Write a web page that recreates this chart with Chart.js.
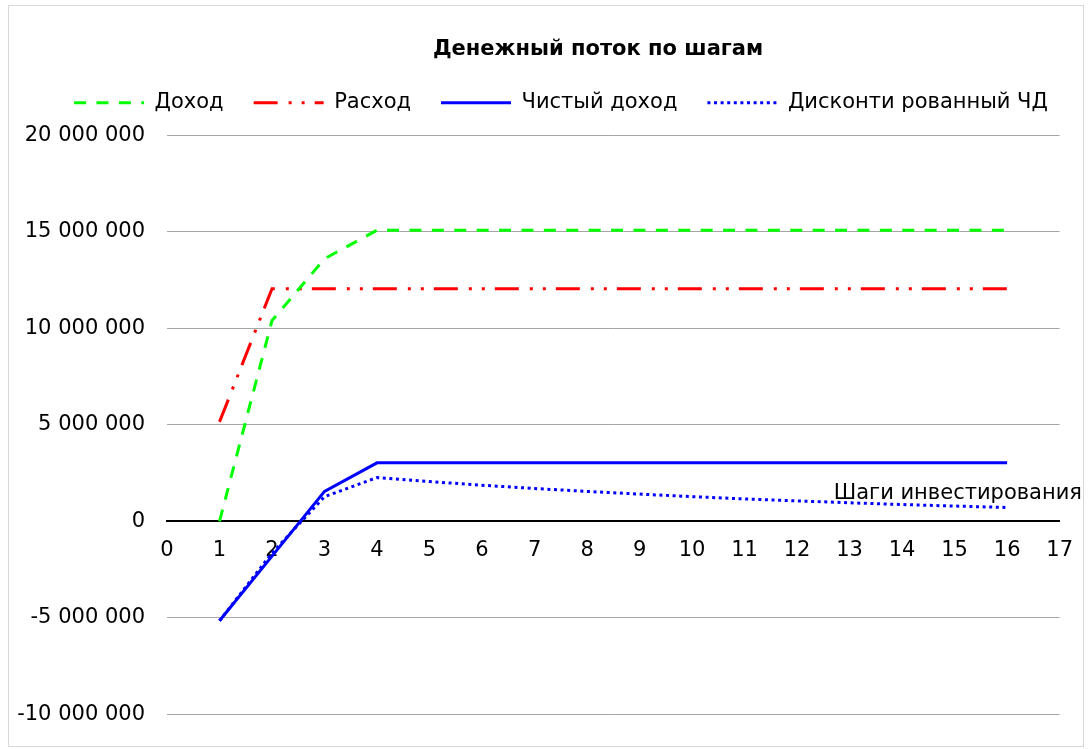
<!DOCTYPE html>
<html lang="ru">
<head>
<meta charset="utf-8">
<title>Денежный поток по шагам</title>
<script src="https://cdn.jsdelivr.net/npm/chart.js@4.4.1/dist/chart.umd.min.js"></script>
<style>
  html, body { margin: 0; padding: 0; background: #fff; }
  #box { position: relative; width: 1090px; height: 749px; }
</style>
</head>
<body>
<div id="box"><canvas id="flowChart"></canvas></div>
<script>
// Шаги и значения денежного потока (руб.)
const steps = [1, 2, 3, 4, 5, 6, 7, 8, 9, 10, 11, 12, 13, 14, 15, 16];
const income = [0, 10400000, 13600000, 15080000, 15080000, 15080000, 15080000, 15080000,
    15080000, 15080000, 15080000, 15080000, 15080000, 15080000, 15080000, 15080000];
const expense = [5150000, 12050000, 12050000, 12050000, 12050000, 12050000, 12050000, 12050000,
    12050000, 12050000, 12050000, 12050000, 12050000, 12050000, 12050000, 12050000];
const netIncome = [-5150000, -1800000, 1550000, 3030000, 3030000, 3030000, 3030000, 3030000,
    3030000, 3030000, 3030000, 3030000, 3030000, 3030000, 3030000, 3030000];
const discounted = [-5150000, -1640000, 1280000, 2270000, 2060000, 1870000, 1700000, 1550000,
    1410000, 1280000, 1160000, 1060000, 960000, 870000, 790000, 720000];

const seriesNames = ['Доход', 'Расход', 'Чистый доход', 'Дисконти рованный ЧД'];
const xAxisTitle = 'Шаги инвестирования';

const FONT = "'DejaVu Sans', Verdana, sans-serif";

function toPoints(values) {
    return steps.map((s, i) => ({ x: s, y: values[i] }));
}

function formatMoney(v) {
    return String(v).replace(/\B(?=(\d{3})+(?!\d))/g, ' ');
}

// рамка вокруг всей диаграммы
const frame = {
    id: 'frame',
    beforeDraw(chart) {
        const ctx = chart.ctx;
        ctx.save();
        ctx.fillStyle = '#fff';
        ctx.fillRect(0, 0, chart.width, chart.height);
        ctx.strokeStyle = '#d9d9d9';
        ctx.lineWidth = 1;
        ctx.strokeRect(8.5, 5.5, 1075, 741);
        ctx.restore();
    }
};

// подпись оси X справа над нулевой линией
const axisCaption = {
    id: 'axisCaption',
    afterDraw(chart) {
        const ctx = chart.ctx;
        const y0 = chart.scales.y.getPixelForValue(0);
        ctx.save();
        ctx.font = '21px ' + FONT;
        ctx.fillStyle = '#000';
        ctx.textAlign = 'right';
        ctx.textBaseline = 'middle';
        ctx.fillText(xAxisTitle, 1082, y0 - 28);
        ctx.restore();
    }
};

// сдвиг заголовка и легенды вправо, отступ под легендой
function shiftBox(box, dx) {
    const draw = box.draw;
    box.draw = function (area) {
        this.ctx.save();
        this.ctx.translate(dx, 0);
        draw.call(this, area);
        this.ctx.restore();
    };
}

const headerLayout = {
    id: 'headerLayout',
    beforeInit(chart) {
        const fit = chart.legend.fit;
        chart.legend.fit = function () {
            fit.call(this);
            this.height += 12;
        };
        shiftBox(chart.legend, 31);
        shiftBox(chart.titleBlock, 68);
    }
};

const ctx = document.getElementById('flowChart').getContext('2d');
const chart = new Chart(ctx, {
    type: 'line',
    data: {
        datasets: [
            {
                label: seriesNames[0],
                data: toPoints(income),
                borderColor: '#00ff00',
                borderWidth: 3,
                borderDash: [12, 10.4],
                pointRadius: 0,
                tension: 0
            },
            {
                label: seriesNames[1],
                data: toPoints(expense),
                borderColor: '#ff0000',
                borderWidth: 3,
                borderDash: [24, 11, 3, 10, 3, 10],
                pointRadius: 0,
                tension: 0
            },
            {
                label: seriesNames[2],
                data: toPoints(netIncome),
                borderColor: '#0000ff',
                borderWidth: 3,
                pointRadius: 0,
                tension: 0
            },
            {
                label: seriesNames[3],
                data: toPoints(discounted),
                borderColor: '#0000ff',
                borderWidth: 3,
                borderDash: [3, 3.6],
                pointRadius: 0,
                tension: 0
            }
        ]
    },
    options: {
        responsive: true,
        maintainAspectRatio: false,
        animation: false,
        layout: { padding: { left: 0, right: 30, top: 0, bottom: 32 } },
        plugins: {
            title: {
                display: true,
                text: 'Денежный поток по шагам',
                color: '#000',
                font: { family: FONT, size: 21, weight: 'bold' },
                padding: { top: 37, bottom: 0 }
            },
            legend: {
                display: true,
                labels: {
                    color: '#000',
                    font: { family: FONT, size: 21 },
                    usePointStyle: true,
                    pointStyle: 'line',
                    pointStyleWidth: 70,
                    padding: 30,
                    generateLabels(chart) {
                        const items = Chart.defaults.plugins.legend.labels.generateLabels(chart);
                        items.forEach((item) => {
                            const ds = chart.data.datasets[item.datasetIndex];
                            item.pointStyle = 'line';
                            item.strokeStyle = ds.borderColor;
                            item.lineWidth = ds.borderWidth;
                            item.lineDash = ds.borderDash || [];
                            item.lineCap = 'butt';
                        });
                        return items;
                    }
                }
            },
            tooltip: { enabled: false }
        },
        scales: {
            x: {
                type: 'linear',
                position: { y: 0 },
                min: 0,
                max: 17,
                ticks: {
                    stepSize: 1,
                    color: '#000',
                    padding: 17,
                    font: { family: FONT, size: 21 }
                },
                grid: { display: false, drawTicks: false },
                border: { display: true, color: '#000', width: 2 }
            },
            y: {
                min: -10000000,
                max: 20000000,
                afterFit(scale) { scale.width = 167; },
                ticks: {
                    stepSize: 5000000,
                    color: '#000',
                    padding: 22,
                    font: { family: FONT, size: 21 },
                    callback: (v) => formatMoney(v)
                },
                grid: {
                    drawTicks: false,
                    color: (c) => (c.tick && c.tick.value === 0 ? 'rgba(0,0,0,0)' : '#a6a6a6')
                },
                border: { display: false }
            }
        }
    },
    plugins: [frame, axisCaption, headerLayout]
});
</script>
</body>
</html>
